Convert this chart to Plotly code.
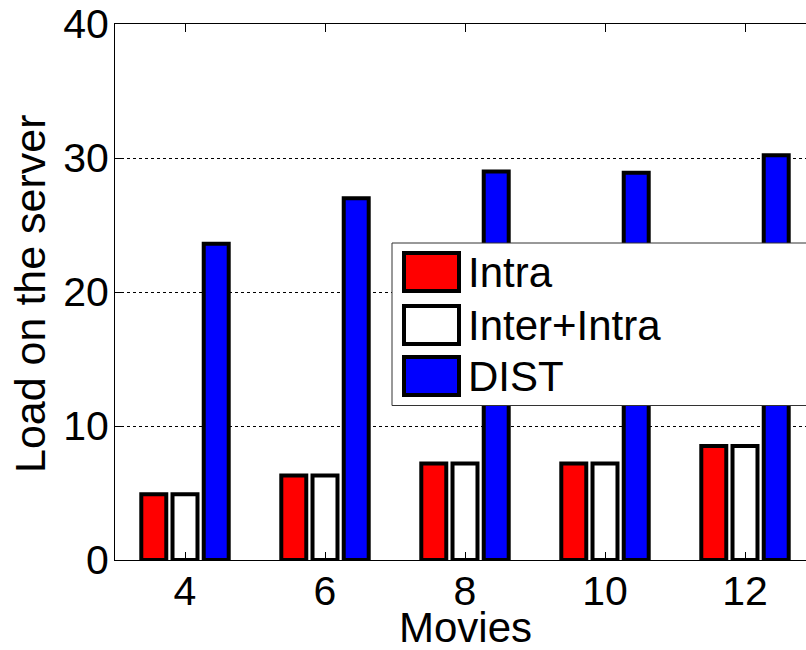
import plotly.graph_objects as go

# Number of movies on the x axis
movies = [4, 6, 8, 10, 12]

# Load on the server for each scheme
intra = [4.9, 6.3, 7.2, 7.2, 8.5]
inter_intra = [4.9, 6.3, 7.2, 7.2, 8.5]
dist = [23.6, 27.0, 29.0, 28.9, 30.2]

series_names = ["Intra", "Inter+Intra", "DIST"]
series_colors = ["#ff0000", "#ffffff", "#0000ff"]
y_ticks = [0, 10, 20, 30, 40]

W, H = 806, 650
ML, MR, MT, MB = 115, 0, 24, 90
PW, PH = W - ML - MR, H - MT - MB
FONT = "Liberation Sans, Arial, sans-serif"


def px_x(p):
    return (p - ML) / PW


def px_y(p):
    return (H - MB - p) / PH


fig = go.Figure()
for name, vals, col in zip(series_names, [intra, inter_intra, dist], series_colors):
    fig.add_trace(go.Bar(
        x=movies, y=vals, name=name, showlegend=False,
        marker=dict(color=col, line=dict(color="black", width=4)),
    ))

# Legend panel drawn on top of the bars
shapes = [dict(type="rect", xref="paper", yref="paper",
               x0=px_x(392), x1=px_x(830), y0=px_y(405.5), y1=px_y(243),
               line=dict(color="#333333", width=1), fillcolor="white", layer="above")]
annotations = []
row_centres = [272, 325, 376]
for name, col, cy in zip(series_names, series_colors, row_centres):
    shapes.append(dict(type="rect", xref="paper", yref="paper",
                       x0=px_x(404), x1=px_x(459), y0=px_y(cy + 19), y1=px_y(cy - 19),
                       line=dict(color="black", width=4), fillcolor=col, layer="above"))
    annotations.append(dict(text=name, xref="paper", yref="paper",
                            x=px_x(466), y=px_y(cy), xanchor="left", yanchor="middle",
                            showarrow=False, font=dict(size=42, color="black", family=FONT)))

# Axis titles
annotations.append(dict(text="Movies", xref="paper", yref="paper",
                        x=px_x(465), y=px_y(627), xanchor="center", yanchor="middle",
                        showarrow=False, font=dict(size=42, color="black", family=FONT)))
annotations.append(dict(text="Load on the server", xref="paper", yref="paper",
                        x=px_x(30), y=px_y(294), xanchor="center", yanchor="middle",
                        textangle=-90, showarrow=False,
                        font=dict(size=43, color="black", family=FONT)))

fig.update_layout(
    width=W, height=H,
    margin=dict(l=ML, r=MR, t=MT, b=MB, pad=0),
    paper_bgcolor="white", plot_bgcolor="white",
    barmode="group", bargap=0.331, bargroupgap=0.2,
    font=dict(family=FONT, color="black"),
    shapes=shapes, annotations=annotations,
    xaxis=dict(range=[3, 3 + PW / 70.0], tickvals=movies, ticktext=[str(m) for m in movies],
               ticks="inside", ticklen=8, tickwidth=1, tickcolor="black",
               showline=True, linecolor="black", linewidth=1, mirror="ticks",
               showgrid=False, zeroline=False, ticklabelstandoff=-5,
               tickfont=dict(size=41, family=FONT)),
    yaxis=dict(range=[0, 40], tickvals=y_ticks, ticks="inside", ticklen=9, tickwidth=1,
               tickcolor="black", showline=True, linecolor="black", linewidth=1,
               mirror=False, showgrid=True, gridcolor="black", gridwidth=1, griddash="dot",
               zeroline=False, ticklabelstandoff=-3,
               tickfont=dict(size=41, family=FONT)),
)

fig.write_html("out.html")
